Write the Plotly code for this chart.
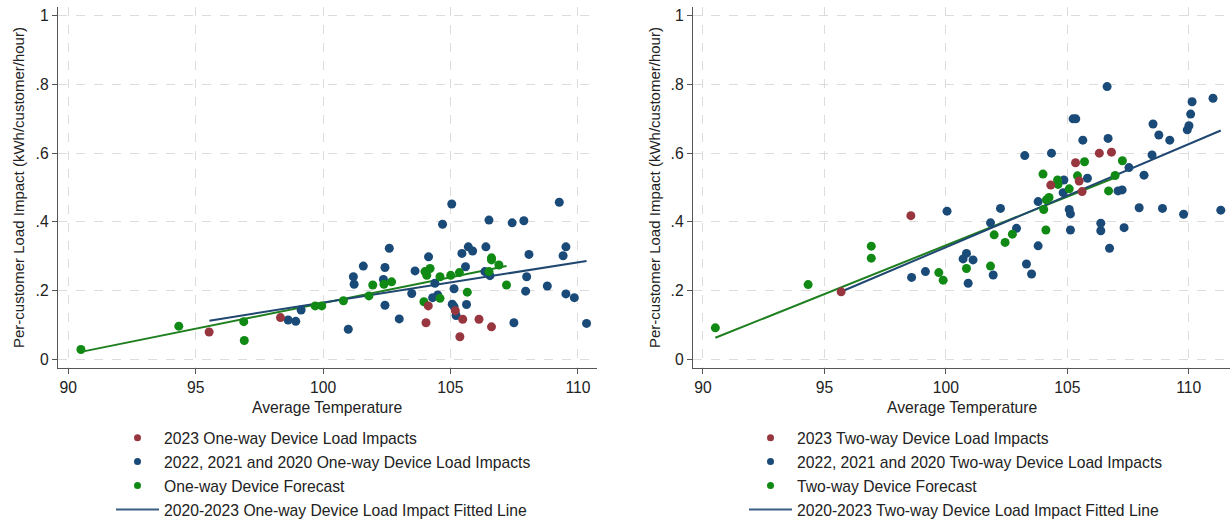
import plotly.graph_objects as go

# ---------------- One-way devices ----------------
ow_2023_temp = [95.53, 98.33, 104.04, 104.13, 105.19, 105.37, 105.48, 106.12, 106.61]
ow_2023_load = [0.079, 0.121, 0.106, 0.155, 0.141, 0.065, 0.116, 0.116, 0.094]

ow_hist_temp = [98.63, 98.93, 99.14, 100.99, 101.19, 101.22, 101.58, 102.37, 102.43, 102.43,
                102.60, 102.99, 103.48, 103.61, 104.14, 104.30, 104.39, 104.50, 104.69, 105.05,
                105.07, 105.14, 105.14, 105.22, 105.45, 105.59, 105.63, 105.70, 105.87, 106.39,
                106.35, 106.51, 106.55, 107.42, 107.49, 107.88, 107.99, 107.95, 108.08, 108.80,
                109.27, 109.42, 109.53, 109.53, 109.86, 110.34]
ow_hist_load = [0.114, 0.110, 0.143, 0.087, 0.240, 0.218, 0.271, 0.232, 0.267, 0.157,
                0.323, 0.117, 0.191, 0.257, 0.298, 0.179, 0.221, 0.187, 0.393, 0.452,
                0.160, 0.205, 0.153, 0.127, 0.308, 0.269, 0.159, 0.327, 0.315, 0.327,
                0.255, 0.405, 0.243, 0.397, 0.106, 0.403, 0.240, 0.198, 0.305, 0.213,
                0.457, 0.301, 0.327, 0.190, 0.179, 0.104]

ow_fc_temp = [90.50, 94.34, 96.89, 96.91, 99.69, 99.95, 100.80, 101.80, 101.95, 102.39,
              102.69, 103.96, 104.00, 104.07, 104.20, 104.59, 104.59, 105.01, 105.35, 105.66,
              106.51, 106.61, 106.61, 106.90, 107.20]
ow_fc_load = [0.028, 0.096, 0.109, 0.054, 0.155, 0.155, 0.170, 0.184, 0.216, 0.218,
              0.225, 0.167, 0.255, 0.244, 0.264, 0.177, 0.240, 0.244, 0.252, 0.195,
              0.255, 0.295, 0.289, 0.274, 0.216]

ow_fit_temp = [95.54, 110.34]
ow_fit_load = [0.112, 0.286]
ow_fc_fit_temp = [90.50, 107.20]
ow_fc_fit_load = [0.021, 0.271]

# ---------------- Two-way devices ----------------
tw_2023_temp = [95.69, 98.56, 104.32, 105.34, 105.49, 105.61, 106.32, 106.82]
tw_2023_load = [0.196, 0.418, 0.507, 0.572, 0.519, 0.488, 0.600, 0.603]

tw_hist_temp = [98.59, 99.16, 100.05, 100.71, 100.85, 100.92, 101.12, 101.84, 101.95, 102.25,
                102.91, 103.25, 103.32, 103.53, 103.80, 103.80, 104.35, 104.86, 104.83, 105.08,
                105.13, 105.13, 105.24, 105.35, 105.64, 105.83, 106.38, 106.38, 106.64, 106.68,
                106.74, 107.09, 107.26, 107.34, 107.54, 107.96, 108.16, 108.49, 108.53, 108.77,
                108.92, 109.22, 109.79, 109.94, 110.01, 110.08, 110.14, 111.00, 111.32]
tw_hist_load = [0.238, 0.255, 0.431, 0.292, 0.308, 0.221, 0.289, 0.397, 0.245, 0.439,
                0.381, 0.593, 0.277, 0.248, 0.330, 0.459, 0.600, 0.522, 0.485, 0.436,
                0.423, 0.376, 0.700, 0.700, 0.638, 0.527, 0.396, 0.374, 0.794, 0.643,
                0.323, 0.490, 0.493, 0.383, 0.558, 0.441, 0.536, 0.595, 0.685, 0.653,
                0.439, 0.638, 0.422, 0.668, 0.680, 0.714, 0.750, 0.760, 0.434]

tw_fc_temp = [90.51, 94.33, 96.93, 96.93, 99.71, 99.89, 100.85, 101.84, 101.99, 102.44,
              102.74, 104.00, 104.03, 104.12, 104.14, 104.25, 104.60, 104.62, 105.08, 105.42,
              105.71, 106.70, 106.97, 107.27]
tw_fc_load = [0.091, 0.217, 0.329, 0.294, 0.252, 0.230, 0.264, 0.271, 0.362, 0.340,
              0.364, 0.539, 0.436, 0.376, 0.464, 0.471, 0.522, 0.509, 0.496, 0.534,
              0.575, 0.490, 0.535, 0.578]

tw_fit_temp = [95.78, 111.32]
tw_fit_load = [0.199, 0.666]
tw_fc_fit_temp = [90.51, 107.00]
tw_fc_fit_load = [0.062, 0.530]

y_tick_vals = [0, 0.2, 0.4, 0.6, 0.8, 1.0]
y_tick_text = ["0", ".2", ".4", ".6", ".8", "1"]
x_tick_vals = [90, 95, 100, 105, 110]

RED = "#98363F"
BLUE = "#1A4A78"
GREEN = "#108A14"
LINE_BLUE = "#1F4770"
LINE_GREEN = "#1E7F1E"
FONT = "Liberation Sans, Arial, sans-serif"
TEXT_SIZE = 15.7

fig = go.Figure()


def add_panel(xa, ya, legend, t23, l23, th, lh, tf, lf, tfit, lfit, tffit, lffit, kind):
    # fitted lines drawn first so the dots sit on top
    fig.add_trace(go.Scatter(x=tffit, y=lffit, mode="lines", xaxis=xa, yaxis=ya,
                             line=dict(color=LINE_GREEN, width=2), showlegend=False,
                             hoverinfo="skip"))
    fig.add_trace(go.Scatter(x=tfit, y=lfit, mode="lines", xaxis=xa, yaxis=ya,
                             line=dict(color=LINE_BLUE, width=2), showlegend=False,
                             hoverinfo="skip"))
    for t, l, c in ((th, lh, BLUE), (tf, lf, GREEN), (t23, l23, RED)):
        fig.add_trace(go.Scatter(x=t, y=l, mode="markers", xaxis=xa, yaxis=ya,
                                 marker=dict(color=c, size=9, line=dict(width=0)),
                                 showlegend=False))
    # legend entries (smaller swatches than the plotted dots)
    entries = [
        (f"2023 {kind} Device Load Impacts", "markers", RED),
        (f"2022, 2021 and 2020 {kind} Device Load Impacts", "markers", BLUE),
        (f"{kind} Device Forecast", "markers", GREEN),
        (f"2020-2023 {kind} Device Load Impact Fitted Line", "lines", "#3B5F82"),
    ]
    for i, (name, mode, c) in enumerate(entries):
        fig.add_trace(go.Scatter(x=[None], y=[None], mode=mode, name=name, xaxis=xa, yaxis=ya,
                                 marker=dict(color=c, size=7),
                                 line=dict(color=c, width=2),
                                 legend=legend, legendgroup=f"{legend}{i}"))


add_panel("x", "y", "legend", ow_2023_temp, ow_2023_load, ow_hist_temp, ow_hist_load,
          ow_fc_temp, ow_fc_load, ow_fit_temp, ow_fit_load, ow_fc_fit_temp, ow_fc_fit_load,
          "One-way")
add_panel("x2", "y2", "legend2", tw_2023_temp, tw_2023_load, tw_hist_temp, tw_hist_load,
          tw_fc_temp, tw_fc_load, tw_fit_temp, tw_fit_load, tw_fc_fit_temp, tw_fc_fit_load,
          "Two-way")

W, H = 1232, 523

axis_common = dict(
    showline=True, linecolor="#555555", linewidth=1.3,
    ticks="outside", ticklen=5, tickcolor="#555555", tickwidth=1.3,
    showgrid=True, gridcolor="#DCDCDC", griddash="dash", gridwidth=1,
    zeroline=False, automargin=False,
    tickfont=dict(size=TEXT_SIZE, color="#222222", family=FONT),
)

legend_common = dict(
    y=1 - 421 / H, xanchor="left", yanchor="top",
    traceorder="grouped", tracegroupgap=0.5, itemwidth=43,
    font=dict(size=TEXT_SIZE, family=FONT, color="#222222"), bgcolor="rgba(0,0,0,0)",
)

fig.update_layout(
    width=W, height=H,
    margin=dict(l=0, r=0, t=0, b=0, autoexpand=False),
    paper_bgcolor="white", plot_bgcolor="white",
    font=dict(family=FONT, size=TEXT_SIZE, color="#222222"),
    xaxis=dict(domain=[58 / W, 597 / W], range=[89.6, 110.75], tickvals=x_tick_vals,
               anchor="y", **axis_common),
    yaxis=dict(domain=[1 - 368 / H, 1 - 7 / H], range=[-0.026, 1.026], tickvals=y_tick_vals,
               ticktext=y_tick_text, anchor="x", **axis_common),
    xaxis2=dict(domain=[693 / W, 1230 / W], range=[89.59, 111.7], tickvals=x_tick_vals,
                anchor="y2", **axis_common),
    yaxis2=dict(domain=[1 - 368 / H, 1 - 7 / H], range=[-0.026, 1.026], tickvals=y_tick_vals,
                ticktext=y_tick_text, anchor="x2", **axis_common),
    legend=dict(x=111 / W, **legend_common),
    legend2=dict(x=744 / W, **legend_common),
)

ytitle = "Per-customer Load Impact (kWh/customer/hour)"
for xpix in (18, 654):
    fig.add_annotation(text=ytitle, x=xpix / W, y=1 - 188 / H, xref="paper", yref="paper",
                       xanchor="center", yanchor="middle",
                       textangle=-90, showarrow=False, font=dict(size=15, family=FONT))
for xpix in (327, 962):
    fig.add_annotation(text="Average Temperature", x=xpix / W, y=1 - 407 / H,
                       xref="paper", yref="paper", xanchor="center", yanchor="middle",
                       showarrow=False, font=dict(size=TEXT_SIZE, family=FONT))

fig.write_html("out.html")
